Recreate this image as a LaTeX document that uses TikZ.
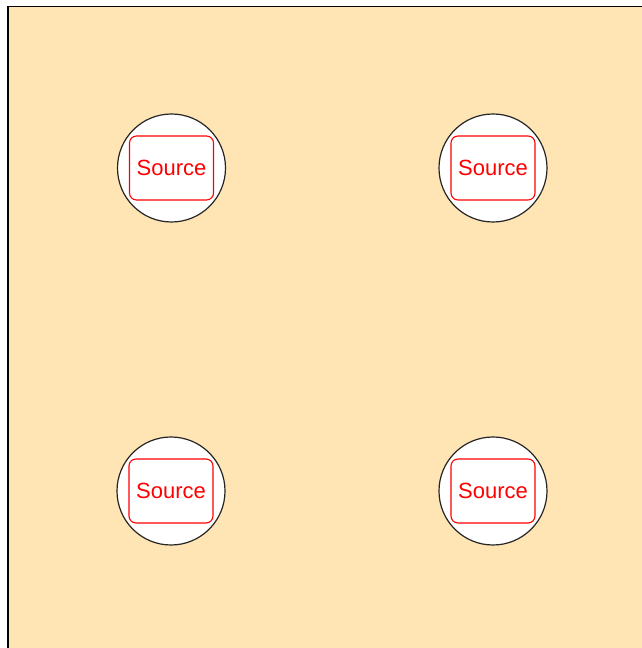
\documentclass[tikz,border=0pt]{standalone}
\usepackage{fontspec}
\setmainfont{Liberation Sans}
\definecolor{panelfill}{RGB}{255,228,180}
\definecolor{srcred}{RGB}{255,0,0}
\tikzset{
  holder/.style={circle,draw=black!85,line width=1.2pt,fill=white,minimum size=108pt,inner sep=0pt},
  srcbox/.style={draw=srcred,text=srcred,line width=1.1pt,rounded corners=7pt,fill=white,
    minimum width=84pt,minimum height=64pt,inner sep=0pt,font=\fontsize{22}{26}\selectfont}
}
\begin{document}
\begin{tikzpicture}[x=1pt,y=1pt]
   \useasboundingbox (0,0) rectangle (642,648);
   \fill[white] (0,0) rectangle (642,648);
   \draw[fill=panelfill,line width=1.6pt] (8,-20) rectangle (660,641.5);
   \foreach \x/\y/\n in
     {171.5/480/a,
      493/480/b,
      171/157/c,
      493/157/d
     }
     {
     \node[holder] (h\n) at (\x,\y) {};
     \node[srcbox] (s\n) at (h\n) {Source};
     }
\end{tikzpicture}
\end{document}
